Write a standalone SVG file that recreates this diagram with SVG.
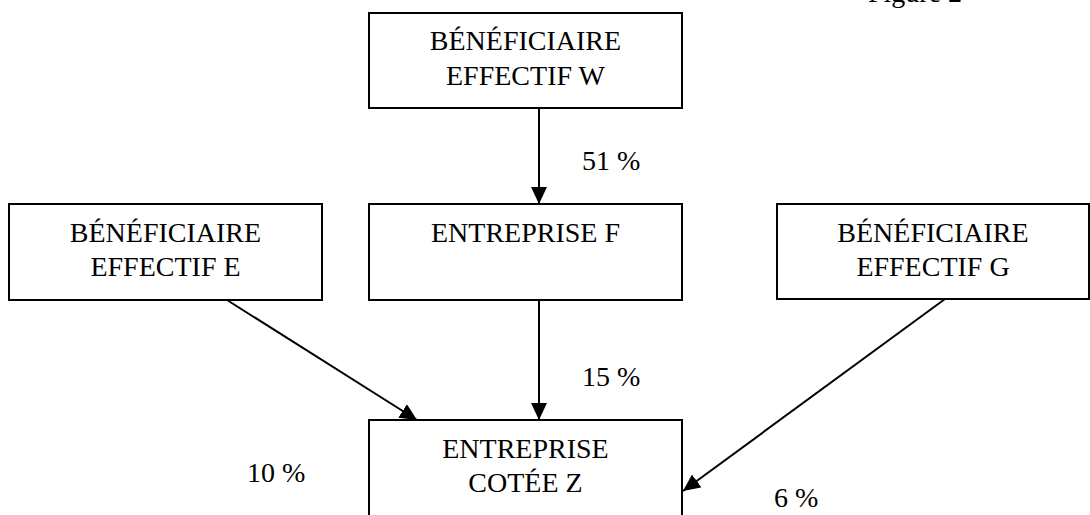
<svg xmlns="http://www.w3.org/2000/svg" width="1090" height="515" viewBox="0 0 1090 515">
<style>
.box{fill:#fff;stroke:#000;stroke-width:2}
.t{font-family:"Liberation Serif","Times New Roman",serif;font-size:28px;fill:#000}
.c{text-anchor:middle}
.ln{stroke:#000;stroke-width:2;fill:none;marker-end:url(#ah)}
</style>
<defs>
<marker id="ah" markerUnits="userSpaceOnUse" markerWidth="18" markerHeight="16" refX="17" refY="8" orient="auto">
<path d="M0,0 L17,8 L0,16 Z" fill="#000"/>
</marker>
</defs>
<text class="t" x="868" y="2">Figure 2</text>
<g id="connectors">
<line class="ln" x1="539" y1="108" x2="539" y2="204"/>
<line class="ln" x1="539" y1="300" x2="539" y2="420"/>
<line class="ln" x1="227" y1="300" x2="417" y2="420"/>
<line class="ln" x1="945" y1="299" x2="683" y2="491"/>
</g>
<g id="nodeW">
<rect class="box" x="369" y="13" width="313" height="95"/>
<text class="t c" x="525.5" y="50">BÉNÉFICIAIRE</text>
<text class="t c" x="525.5" y="85">EFFECTIF W</text>
</g>
<g id="nodeF">
<rect class="box" x="369" y="204" width="313" height="96"/>
<text class="t c" x="525.5" y="242">ENTREPRISE F</text>
</g>
<g id="nodeE">
<rect class="box" x="9" y="204" width="313" height="96"/>
<text class="t c" x="165.5" y="242">BÉNÉFICIAIRE</text>
<text class="t c" x="165.5" y="276">EFFECTIF E</text>
</g>
<g id="nodeG">
<rect class="box" x="777" y="204" width="312" height="95"/>
<text class="t c" x="933" y="242">BÉNÉFICIAIRE</text>
<text class="t c" x="933" y="276">EFFECTIF G</text>
</g>
<g id="nodeZ">
<rect class="box" x="369" y="420" width="313" height="110"/>
<text class="t c" x="525.5" y="458">ENTREPRISE</text>
<text class="t c" x="525.5" y="492">COTÉE Z</text>
</g>
<g id="labels">
<text class="t" x="582" y="170">51 %</text>
<text class="t" x="582" y="386">15 %</text>
<text class="t" x="247" y="482">10 %</text>
<text class="t" x="774" y="507">6 %</text>
</g>
</svg>
